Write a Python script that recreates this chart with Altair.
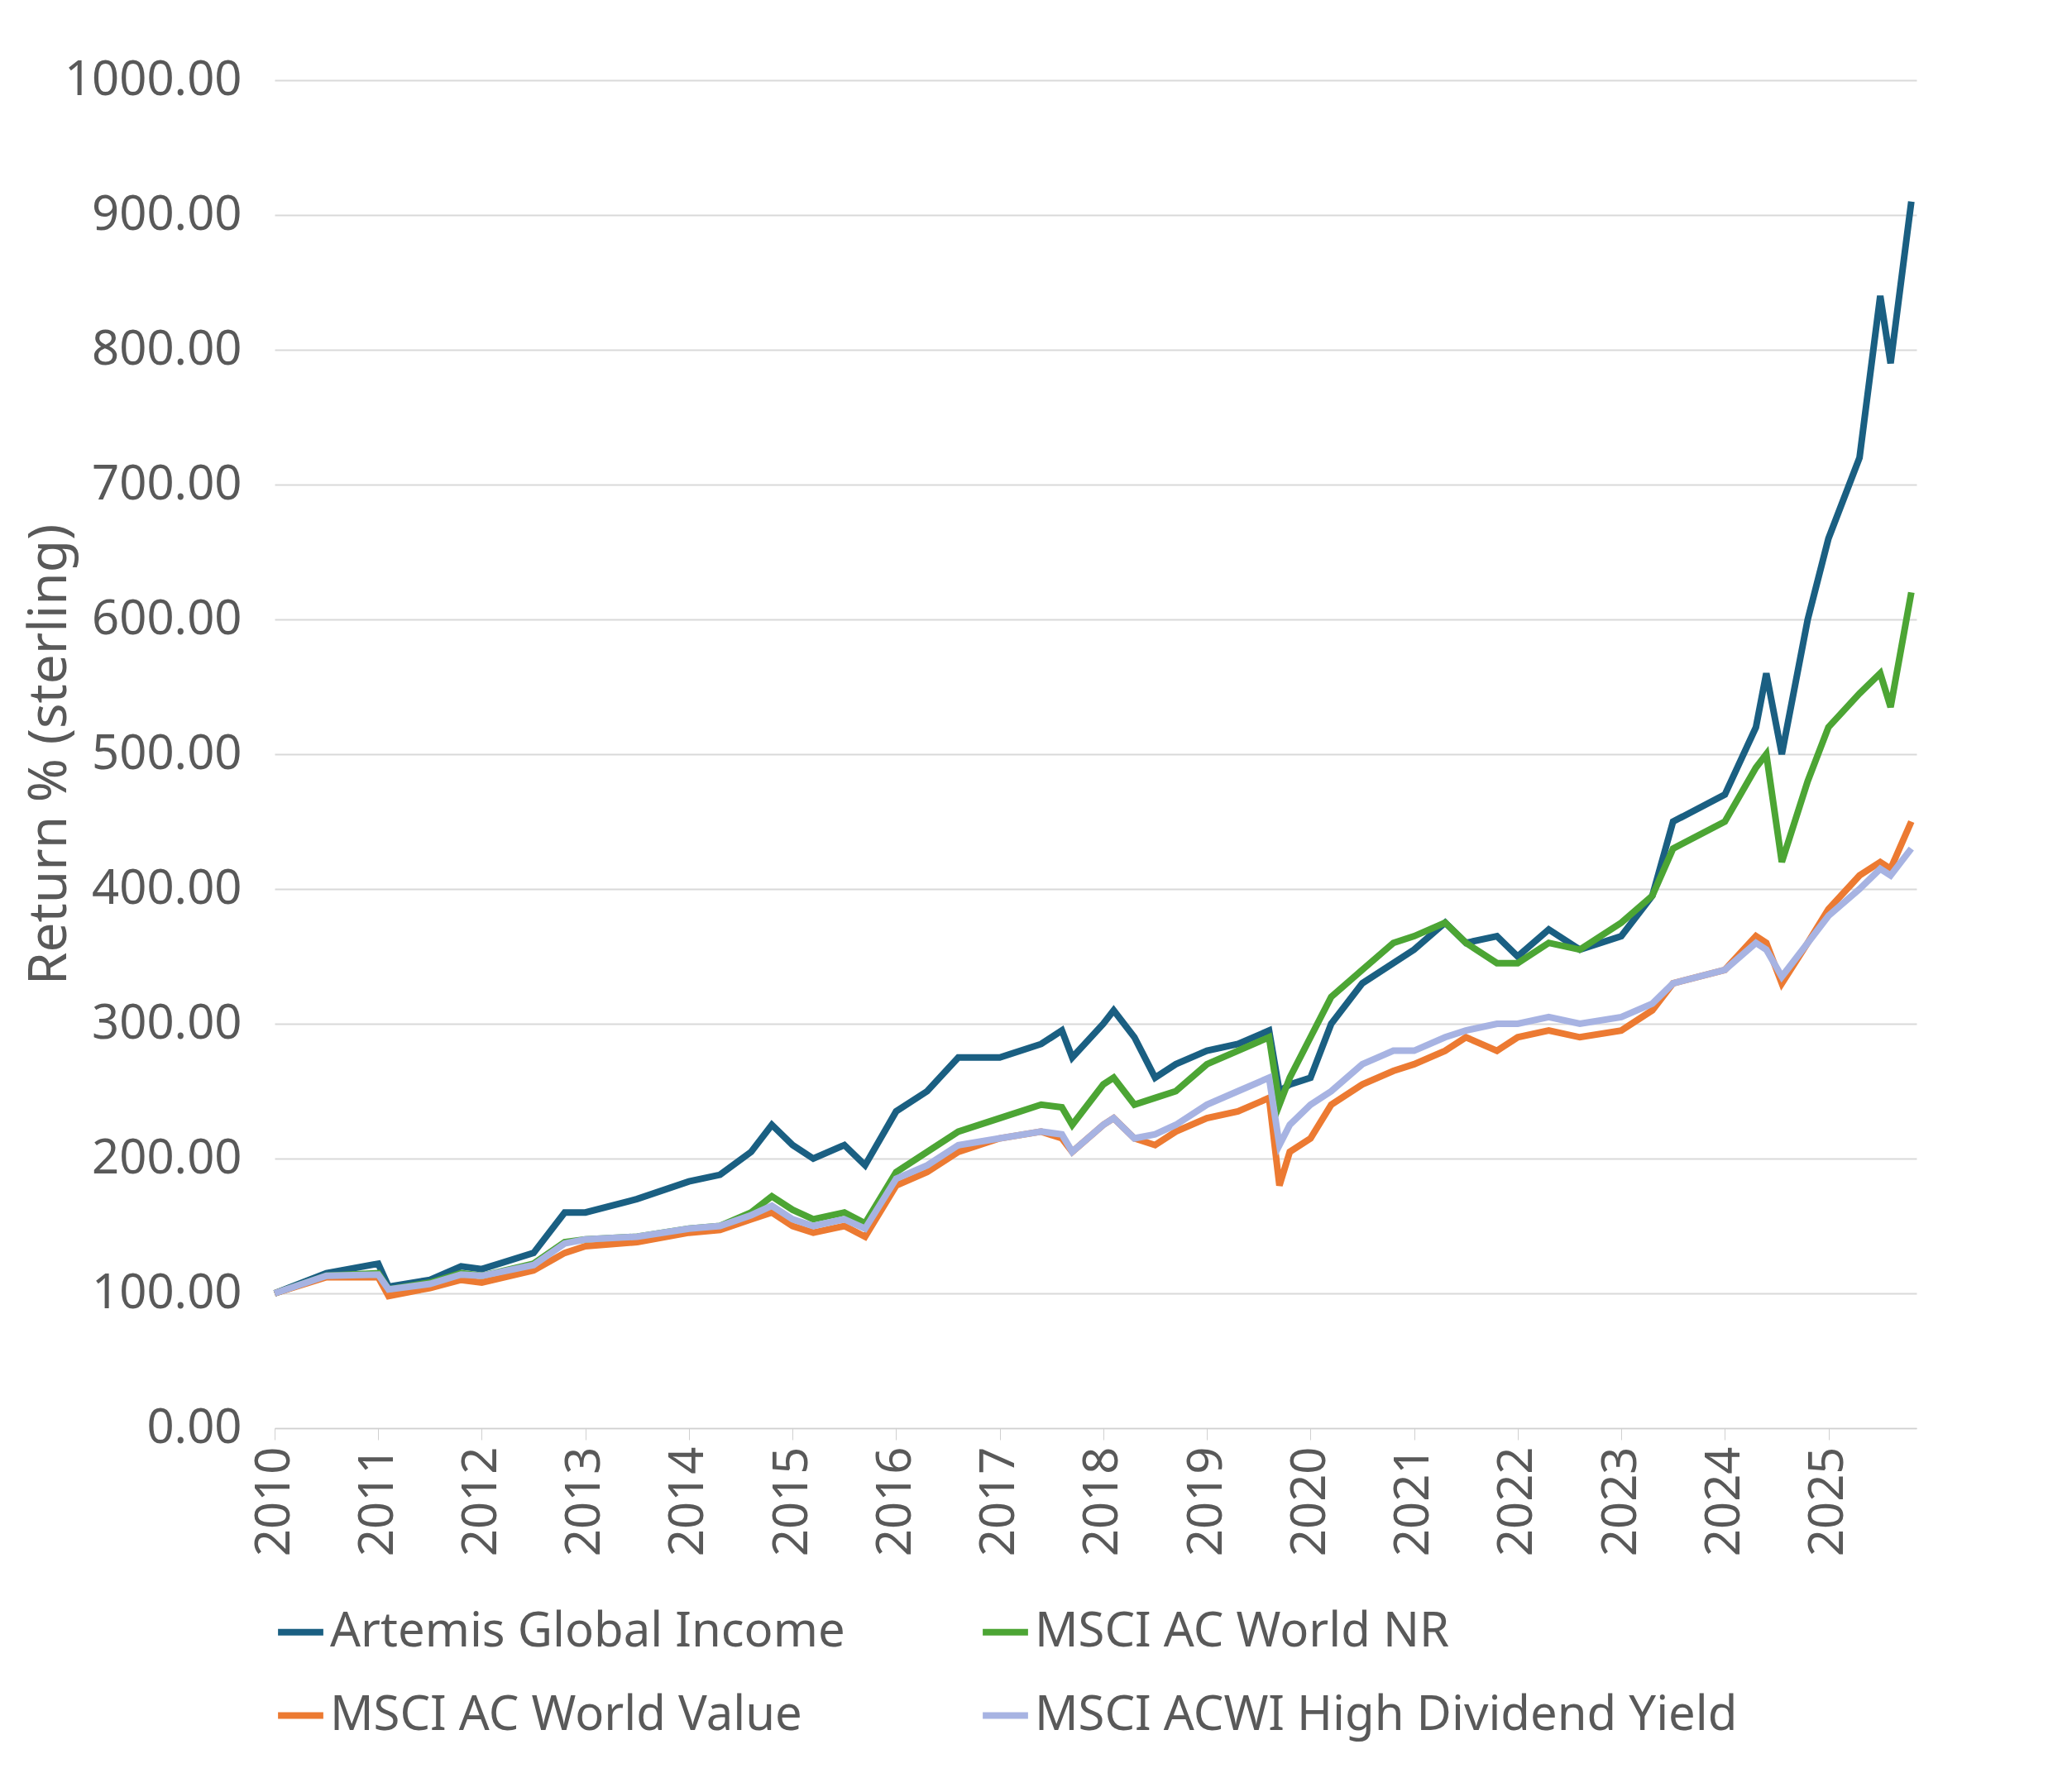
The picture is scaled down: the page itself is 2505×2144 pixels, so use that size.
import altair as alt
import pandas as pd

t = [2010.0,2010.5,2011.0,2011.1,2011.5,2011.8,2012.0,2012.5,2012.8,2013.0,2013.5,2014.0,2014.3,2014.6,2014.8,2015.0,2015.2,2015.5,2015.7,2016.0,2016.3,2016.6,2017.0,2017.4,2017.6,2017.7,2018.0,2018.1,2018.3,2018.5,2018.7,2019.0,2019.3,2019.6,2019.7,2019.8,2020.0,2020.2,2020.5,2020.8,2021.0,2021.3,2021.5,2021.8,2022.0,2022.3,2022.6,2023.0,2023.3,2023.5,2024.0,2024.3,2024.4,2024.55,2024.8,2025.0,2025.3,2025.5,2025.6,2025.8]
artemis = [100,115,122,105,110,120,118,130,160,160,170,183,188,205,225,210,200,210,195,235,250,275,275,285,295,275,300,310,290,260,270,280,285,295,250,255,260,300,330,345,355,375,360,365,350,370,355,365,395,450,470,520,560,500,600,660,720,840,790,910]
world = [100,113,115,103,108,115,113,122,138,140,142,148,150,160,172,162,155,160,152,190,205,220,230,240,238,225,255,260,240,245,250,270,280,290,240,260,290,320,340,360,365,375,360,345,345,360,355,375,395,430,450,490,500,420,480,520,545,560,535,620]
value = [100,112,112,98,104,110,108,117,130,135,138,145,147,155,160,150,145,150,142,180,190,205,215,220,215,205,225,230,215,210,220,230,235,245,180,205,215,240,255,265,270,280,290,280,290,295,290,295,310,330,340,365,360,330,360,385,410,420,415,450]
hdy = [100,113,114,103,107,114,113,121,137,140,142,148,150,158,165,155,150,155,148,185,195,210,215,220,218,205,225,230,215,218,225,240,250,260,210,225,240,250,270,280,280,290,295,300,300,305,300,305,315,330,340,360,355,335,360,380,400,415,410,430]
names = ["Artemis Global Income","MSCI AC World NR","MSCI AC World Value","MSCI ACWI High Dividend Yield"]
colors = ["#1a5f82","#4ca534","#ec7a32","#a7b3e2"]

rows = []
for n, s in zip(names, [artemis, world, value, hdy]):
    for x, y in zip(t, s):
        rows.append({"t": x, "v": y, "s": n})
df = pd.DataFrame(rows)

F = "Noto Sans"
chart = alt.Chart(df).mark_line(strokeWidth=8).encode(
    x=alt.X("t:Q", scale=alt.Scale(domain=[2010, 2025.85], nice=False),
            axis=alt.Axis(values=list(range(2010, 2026)), format="d", labelAngle=-90,
                          grid=False, title=None, labelFontSize=58, labelColor="#595959",
                          domainColor="#d0d0d0", tickColor="#d0d0d0", tickSize=14, labelPadding=8)),
    y=alt.Y("v:Q", scale=alt.Scale(domain=[0, 1000]),
            axis=alt.Axis(values=list(range(0, 1001, 100)), format=".2f", title="Return % (sterling)",
                          titleFontSize=64, titleFontWeight="normal", titleColor="#595959",
                          labelFontSize=58, labelColor="#595959", domain=False, ticks=False,
                          labelLimit=600, gridColor="#d9d9d9", gridWidth=2, labelPadding=40, titlePadding=40)),
    color=alt.Color("s:N", scale=alt.Scale(domain=names, range=colors),
                    legend=alt.Legend(orient="bottom", columns=2, title=None, labelFontSize=58,
                                      labelColor="#595959", symbolType="stroke", symbolStrokeWidth=8,
                                      symbolSize=3000, columnPadding=150, rowPadding=40, labelLimit=1200,
                                      offset=60, padding=0)),
    order=alt.Order("t:Q"),
).properties(width=1985, height=1630, padding={"left": 20, "top": 60, "right": 40, "bottom": 10}
).configure(font=F).configure_view(stroke=None)

chart.save("out.html", embed_options={"renderer": "svg", "actions": False})
